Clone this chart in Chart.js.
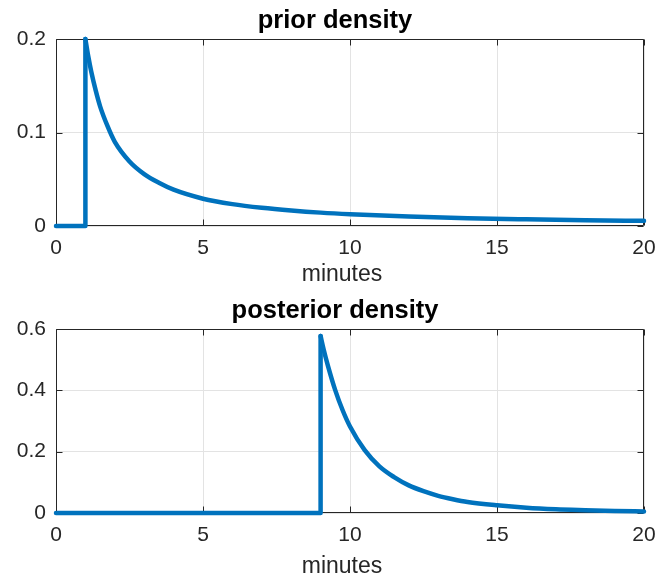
<!DOCTYPE html>
<html>
<head>
<meta charset="utf-8">
<script src="https://cdn.jsdelivr.net/npm/chart.js@4.4.0/dist/chart.umd.min.js"></script>
<style>
  html, body { margin: 0; padding: 0; background: #ffffff; }
  #wrap { position: relative; width: 657px; height: 577px; overflow: hidden; }
  canvas { position: absolute; left: 0; }
  #c1 { top: 0px; }
  #c2 { top: 290px; }
</style>
</head>
<body>
<div id="wrap">
  <canvas id="c1" width="657" height="290"></canvas>
  <canvas id="c2" width="657" height="287"></canvas>
</div>
<script>
// ---- data ----
const xTicks = [0, 5, 10, 15, 20];
const priorYTicks = [0, 0.1, 0.2];
const postYTicks = [0, 0.2, 0.4, 0.6];

// prior: zero until x = 1, then jump and decay
const priorStepX = [0, 1, 1];
const priorStepY = [0, 0, 0.2];
const priorX = [1, 1.1, 1.2, 1.35, 1.5, 1.75, 2, 2.5, 3, 3.5, 4, 5, 6, 7, 8, 9, 10, 12, 14, 16, 18, 20];
const priorY = [0.2, 0.181, 0.165, 0.145, 0.128, 0.107, 0.090, 0.069, 0.0555, 0.0462, 0.0388, 0.0292, 0.0234, 0.0195, 0.0166, 0.0143, 0.0126, 0.0101, 0.0084, 0.0072, 0.0062, 0.0055];

// posterior: zero until x = 9, then jump and decay
const postStepX = [0, 9, 9];
const postStepY = [0, 0, 0.577];
const postX = [9, 9.1, 9.25, 9.5, 9.75, 10, 10.5, 11, 11.5, 12, 12.5, 13, 13.5, 14, 15, 16, 17, 18, 19, 20];
const postY = [0.577, 0.535, 0.48, 0.40, 0.335, 0.282, 0.205, 0.152, 0.117, 0.090, 0.071, 0.056, 0.045, 0.036, 0.025, 0.017, 0.012, 0.009, 0.0065, 0.005];

const titles = ['prior density', 'posterior density'];
const xLabel = 'minutes';

// ---- styling ----
const LINE = '#0072BD';
const AX = '#262626';
const GRID = '#e3e3e3';
const FONT = "'Liberation Sans', Arial, Helvetica, sans-serif";

const toPts = (xs, ys) => xs.map((x, i) => ({ x, y: ys[i] }));

const boxPlugin = {
  id: 'matlabBox',
  beforeDatasetsDraw(chart) {
    const { ctx, chartArea: { left, right, top, bottom }, scales: { x, y } } = chart;
    ctx.save();
    ctx.strokeStyle = AX;
    ctx.lineWidth = 1;
    ctx.beginPath();
    const L = Math.round(left) + 0.5, R = Math.round(right) - 0.5;
    const T = Math.round(top) + 0.5, B = Math.round(bottom) - 0.5;
    ctx.rect(L, T, R - L, B - T);
    x.ticks.forEach(t => {
      const p = Math.round(x.getPixelForValue(t.value)) + 0.5;
      ctx.moveTo(p, B); ctx.lineTo(p, B - 6);
      ctx.moveTo(p, T); ctx.lineTo(p, T + 6);
    });
    y.ticks.forEach(t => {
      const p = Math.round(y.getPixelForValue(t.value)) + 0.5;
      ctx.moveTo(L, p); ctx.lineTo(L + 6, p);
      ctx.moveTo(R, p); ctx.lineTo(R - 6, p);
    });
    ctx.stroke();
    ctx.restore();
  }
};

const textPlugin = {
  id: 'texts',
  afterDraw(chart, args, o) {
    const ctx = chart.ctx;
    ctx.save();
    ctx.textAlign = 'center';
    ctx.textBaseline = 'middle';
    ctx.fillStyle = '#000000';
    ctx.font = 'bold 25.5px ' + FONT;
    ctx.fillText(o.title, o.titleX, o.titleY);
    ctx.fillStyle = AX;
    ctx.font = '23px ' + FONT;
    ctx.fillText(o.xlabel, o.xlabelX, o.xlabelY);
    ctx.restore();
  }
};

function makeChart(id, title, stepX, stepY, curveX, curveY, yTicks, titleY, xlabelY) {
  const ymax = yTicks[yTicks.length - 1];
  return new Chart(document.getElementById(id), {
    type: 'line',
    data: {
      datasets: [
        {
          data: toPts(stepX, stepY),
          borderColor: LINE, borderWidth: 4.5, pointRadius: 0, tension: 0, clip: 10,
          borderJoinStyle: 'round', borderCapStyle: 'round', fill: false
        },
        {
          data: toPts(curveX, curveY),
          borderColor: LINE, borderWidth: 4.5, pointRadius: 0, clip: 10,
          cubicInterpolationMode: 'monotone',
          borderJoinStyle: 'round', borderCapStyle: 'round', fill: false
        }
      ]
    },
    options: {
      responsive: false,
      animation: false,
      devicePixelRatio: 1,
      layout: { padding: { left: 0, right: 13, top: 39, bottom: 0 } },
      plugins: {
        legend: { display: false },
        tooltip: { enabled: false },
        title: { display: false },
        texts: { title: title, titleX: 335, titleY: titleY, xlabel: xLabel, xlabelX: 342, xlabelY: xlabelY }
      },
      scales: {
        x: {
          type: 'linear',
          min: xTicks[0], max: xTicks[xTicks.length - 1],
          afterBuildTicks: s => { s.ticks = xTicks.map(v => ({ value: v })); },
          afterFit: s => { s.height = 64; s.paddingLeft = 0; s.paddingRight = 0; },
          ticks: {
            color: AX, padding: 10,
            font: { family: FONT, size: 21 },
            maxRotation: 0, autoSkip: false,
            callback: v => String(v)
          },
          grid: { color: GRID, drawTicks: false, lineWidth: 1 },
          border: { display: false },
          title: { display: false }
        },
        y: {
          type: 'linear',
          min: 0, max: ymax,
          afterBuildTicks: s => { s.ticks = yTicks.map(v => ({ value: v })); },
          afterFit: s => { s.width = 56; s.paddingTop = 0; s.paddingBottom = 0; },
          ticks: {
            color: AX, padding: 10,
            font: { family: FONT, size: 21 },
            autoSkip: false,
            callback: v => String(+v.toFixed(1))
          },
          grid: { color: GRID, drawTicks: false, lineWidth: 1 },
          border: { display: false }
        }
      }
    },
    plugins: [boxPlugin, textPlugin]
  });
}

makeChart('c1', titles[0], priorStepX, priorStepY, priorX, priorY, priorYTicks, 21, 275);
makeChart('c2', titles[1], postStepX, postStepY, postX, postY, postYTicks, 21, 277);
</script>
</body>
</html>
